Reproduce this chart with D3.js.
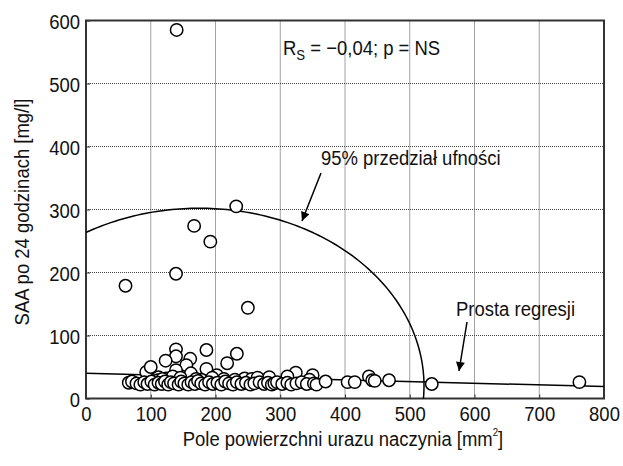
<!DOCTYPE html>
<html>
<head>
<meta charset="utf-8">
<script src="https://cdn.jsdelivr.net/npm/d3@7/dist/d3.min.js"></script>
<style>
  html, body { margin: 0; padding: 0; background: #fff; }
  svg { display: block; }
  text { font-family: "Liberation Sans", Arial, sans-serif; fill: #111; }
</style>
</head>
<body>
<svg id="chart" width="623" height="466"></svg>
<script>
// ---- data ----
const xTicks = [0, 100, 200, 300, 400, 500, 600, 700, 800];
const yTicks = [0, 100, 200, 300, 400, 500, 600];
const xTitle = "Pole powierzchni urazu naczynia [mm";
const yTitle = "SAA po 24 godzinach [mg/l]";

// pole powierzchni urazu [mm2]
const area = [
  140, 232, 167, 192, 139, 61, 250,
  139, 186, 233, 139, 123, 161, 155, 218, 186, 139, 93, 100, 162, 202, 112, 178, 245, 124, 134, 111,
  118, 146, 170, 195, 213, 230, 256, 272,
  324, 311, 350, 345, 265, 283, 437, 442, 468,
  66, 71, 78, 84, 90, 95, 101, 106, 112, 117, 122, 127, 131, 136, 143, 147, 152, 158, 163, 168,
  173, 178, 184, 190, 196, 203, 209, 215, 221, 227, 233, 240, 247, 254, 260, 268, 275, 281, 287,
  291, 295, 303, 311, 317, 325, 333, 341, 352, 356, 370, 404, 415, 446, 534, 762
];
// SAA po 24 godzinach [mg/l]
const saa = [
  585, 305, 274, 249, 198, 179, 144,
  78, 77, 71, 67, 60, 63, 53, 56, 47, 45, 42, 50, 40, 37, 34, 30, 32, 32, 35, 29,
  31, 33, 31, 33, 31, 30, 31, 29,
  41, 35, 37, 30, 33, 34, 35, 29, 29,
  25, 27, 24, 22, 26, 23, 27, 22, 25, 23, 27, 22, 26, 24, 22, 27, 24, 22, 26, 23,
  28, 24, 22, 26, 23, 25, 22, 27, 24, 22, 26, 23, 25, 22, 24, 26, 23, 25, 22,
  24, 26, 23, 25, 22, 24, 26, 23, 24, 22, 27, 26, 26, 28, 23, 26
];

// prosta regresji (end points)
const regX = [0, 800];
const regY = [40, 19];

// 95% confidence ellipse (centre, semi-axes, in data units)
const ellCenter = [175, 20];
const ellAxes = [347, 282];

const annoRs = ["R", "S", " = \u22120,04; p = NS"];
const annoCI = "95% przedzia\u0142 ufno\u015bci";
const annoReg = "Prosta regresji";

// ---- layout ----
const FS = 21;
const SX = 0.88;   // horizontal condensing to mimic a condensed face
const svg = d3.select("#chart");
const L = 86, R = 604, T = 20.5, B = 398.5;
const x = d3.scaleLinear().domain([0, 800]).range([L, R]);
const y = d3.scaleLinear().domain([0, 600]).range([B, T]);

const defs = svg.append("defs");
defs.append("clipPath").attr("id", "plotclip")
  .append("rect").attr("x", L).attr("y", T).attr("width", R - L).attr("height", B - T);

const marker = defs.append("marker")
  .attr("id", "arrow").attr("viewBox", "0 0 10 10")
  .attr("refX", 10).attr("refY", 5)
  .attr("markerWidth", 14).attr("markerHeight", 9)
  .attr("markerUnits", "userSpaceOnUse")
  .attr("orient", "auto");
marker.append("path").attr("d", "M0,0 L10,5 L0,10 Z").attr("fill", "#000");

// grid
const grid = svg.append("g");
grid.selectAll(".gx").data(xTicks.filter(d => d > 0 && d < 800)).enter().append("line")
  .attr("x1", d => x(d)).attr("x2", d => x(d)).attr("y1", T).attr("y2", B)
  .attr("stroke", "#444").attr("stroke-width", 1).attr("stroke-dasharray", "1,1");
grid.selectAll(".gy").data(yTicks.filter(d => d > 0 && d < 600)).enter().append("line")
  .attr("y1", d => y(d)).attr("y2", d => y(d)).attr("x1", L).attr("x2", R)
  .attr("stroke", "#444").attr("stroke-width", 1).attr("stroke-dasharray", "1,1");

// axes
const xAxis = d3.axisBottom(x).tickValues(xTicks).tickSize(-4).tickPadding(8).tickFormat(d3.format("d"));
const yAxis = d3.axisLeft(y).tickValues(yTicks).tickSize(-4).tickPadding(6).tickFormat(d3.format("d"));
const gx = svg.append("g").attr("transform", `translate(0,${B})`).call(xAxis);
const gy = svg.append("g").attr("transform", `translate(${L},0)`).call(yAxis);
[gx, gy].forEach(g => {
  g.select(".domain").remove();
  g.selectAll("line").attr("stroke", "#333").attr("stroke-width", 1);
  g.selectAll("text").attr("font-size", FS)
    .attr("font-family", '"Liberation Sans", Arial, sans-serif').attr("fill", "#111");
});
gx.selectAll("text").attr("transform", `scale(${SX},1)`);
gy.selectAll("text").attr("dy", "0.36em").attr("x", null)
  .attr("transform", `translate(-6,0) scale(${SX},1)`);

// frame
svg.append("rect").attr("x", L).attr("y", T).attr("width", R - L).attr("height", B - T)
  .attr("fill", "none").attr("stroke", "#333").attr("stroke-width", 2);

const plot = svg.append("g").attr("clip-path", "url(#plotclip)");

// ellipse
const angles = d3.range(0, 361, 1).map(a => a * Math.PI / 180);
const ell = d3.line()
  .x(t => x(ellCenter[0] + ellAxes[0] * Math.cos(t)))
  .y(t => y(ellCenter[1] + ellAxes[1] * Math.sin(t)));
plot.append("path").attr("d", ell(angles)).attr("fill", "none")
  .attr("stroke", "#000").attr("stroke-width", 1.5);

// regression line
plot.append("line")
  .attr("x1", x(regX[0])).attr("y1", y(regY[0]))
  .attr("x2", x(regX[1])).attr("y2", y(regY[1]))
  .attr("stroke", "#000").attr("stroke-width", 1.5);

// points
const pts = area.map((a, i) => ({ a, s: saa[i] }));
svg.append("g").selectAll("circle").data(pts).enter().append("circle")
  .attr("cx", d => x(d.a)).attr("cy", d => y(d.s)).attr("r", 6.2)
  .attr("fill", "#fff").attr("stroke", "#000").attr("stroke-width", 1.5);

// annotations
function label(px, py, extra) {
  return svg.append("text")
    .attr("transform", `translate(${px},${py}) ${extra || ""} scale(${SX},1)`)
    .attr("font-size", FS);
}
const rs = label(283, 55);
rs.append("tspan").text(annoRs[0]);
rs.append("tspan").attr("font-size", 15).attr("dy", 5).text(annoRs[1]);
rs.append("tspan").attr("dy", -5).text(annoRs[2]);

label(321, 165).text(annoCI);
svg.append("line").attr("x1", 321).attr("y1", 173).attr("x2", 302).attr("y2", 221)
  .attr("stroke", "#000").attr("stroke-width", 1.5).attr("marker-end", "url(#arrow)");

label(456, 316).text(annoReg);
svg.append("line").attr("x1", 467).attr("y1", 322).attr("x2", 459).attr("y2", 371)
  .attr("stroke", "#000").attr("stroke-width", 1.5).attr("marker-end", "url(#arrow)");

// axis titles
const xt = label((L + R) / 2 - 2, 446).attr("text-anchor", "middle");
xt.append("tspan").text(xTitle);
xt.append("tspan").attr("font-size", 11).attr("dy", -10).text("2");
xt.append("tspan").attr("dy", 10).text("]");

label(29, 212, "rotate(-90)").attr("text-anchor", "middle").text(yTitle);
</script>
</body>
</html>
